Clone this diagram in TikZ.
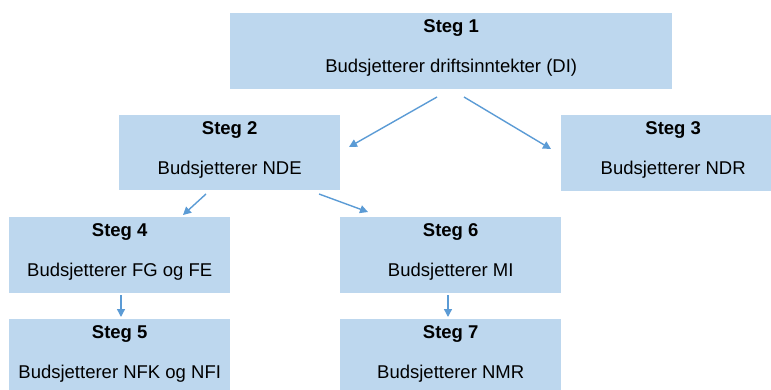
\documentclass[tikz,border=0pt]{standalone}
\usepackage{fontspec}
\setmainfont{Liberation Sans}
\usetikzlibrary{arrows.meta,calc}
\definecolor{boxfill}{HTML}{BDD7EE}
\definecolor{arrowblue}{HTML}{5B9BD5}
\tikzset{
  stepbox/.style={fill=boxfill, draw=none, inner sep=0pt, anchor=north west},
  steptitle/.style={anchor=base, inner sep=0pt, font=\fontsize{18.5}{22}\selectfont\bfseries},
  stepbody/.style={anchor=base, inner sep=0pt, font=\fontsize{18.5}{22}\selectfont},
  flow/.style={draw=arrowblue, line width=1.4pt, -{Triangle[length=8pt,width=8pt]}, shorten >=0pt}
}
\begin{document}
\begin{tikzpicture}[x=1pt,y=-1pt]
\useasboundingbox (0,0) rectangle (771,390);
% boxes: north-west corner, width, height
\node[stepbox, minimum width=442, minimum height=76] (s1) at (230,13) {};
\node[stepbox, minimum width=221, minimum height=75] (s2) at (119,115) {};
\node[stepbox, minimum width=224, minimum height=76] (s3) at (561,115) {};
\node[stepbox, minimum width=221, minimum height=76] (s4) at (9,217) {};
\node[stepbox, minimum width=221, minimum height=76] (s6) at (340,217) {};
\node[stepbox, minimum width=221, minimum height=75] (s5) at (9,319) {};
\node[stepbox, minimum width=221, minimum height=75] (s7) at (340,319) {};
% box texts
\foreach \b/\n/\t in {s1/1/Budsjetterer driftsinntekter (DI),
                      s2/2/Budsjetterer NDE,
                      s3/3/Budsjetterer NDR,
                      s4/4/Budsjetterer FG og FE,
                      s5/5/Budsjetterer NFK og NFI,
                      s6/6/Budsjetterer MI,
                      s7/7/Budsjetterer NMR}{
  \node[steptitle] (\b t) at ($(\b.north)+(0,19.5)$) {Steg \n};
  \node[stepbody] (\b b) at ($(\b.north)+(0,59.5)$) {\t};
}
% connector end points
\coordinate (a1s) at (437,97);  \coordinate (a1e) at (349,147);
\coordinate (a2s) at (464,97);  \coordinate (a2e) at (551,149);
\coordinate (a3s) at (206,194); \coordinate (a3e) at (183,215);
\coordinate (a4s) at (319,194); \coordinate (a4e) at (368,212);
\coordinate (a5s) at (121,295); \coordinate (a5e) at (121,317);
\coordinate (a6s) at (448,295); \coordinate (a6e) at (448,317);
\draw[flow] (a1s) -- (a1e);
\draw[flow] (a2s) -- (a2e);
\draw[flow] (a3s) -- (a3e);
\draw[flow] (a4s) -- (a4e);
\draw[flow] (a5s) -- (a5e);
\draw[flow] (a6s) -- (a6e);
\end{tikzpicture}
\end{document}
